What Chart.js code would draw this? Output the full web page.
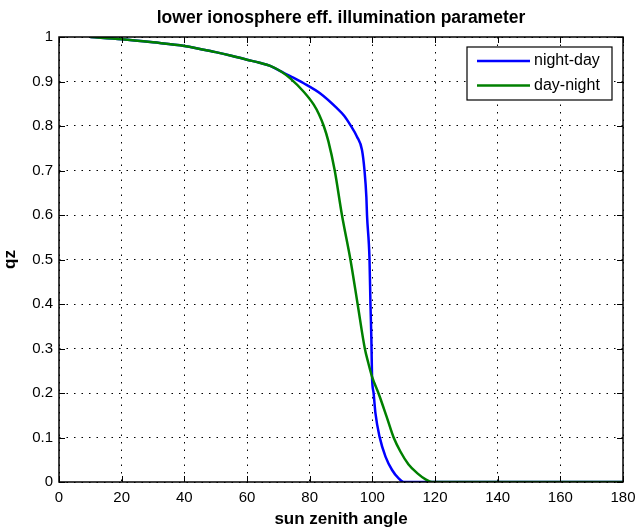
<!DOCTYPE html>
<html>
<head>
<meta charset="utf-8">
<script src="https://cdn.jsdelivr.net/npm/chart.js@4"></script>
<style>
  html, body { margin: 0; padding: 0; background: #fff; }
  #wrap { width: 638px; height: 531px; }
</style>
</head>
<body>
<div id="wrap"><canvas id="qz_chart" width="638" height="531"></canvas></div>
<script>
// valores
const chartTitle = 'lower ionosphere eff. illumination parameter';
const xTicks = [0, 20, 40, 60, 80, 100, 120, 140, 160, 180];
const yTicks = [0, 0.1, 0.2, 0.3, 0.4, 0.5, 0.6, 0.7, 0.8, 0.9, 1];

const nightDayAngle = [10, 20, 30, 40, 50, 55, 60, 64, 67.4, 71, 73.8, 78.1, 83.4, 88.7, 91, 93, 95.1, 96.7, 97.5, 98.1, 98.3, 99.1, 99.4, 99.7, 99.9, 100.4, 101, 102.3, 104.2, 106.3, 108.4, 110, 120, 140, 160, 180];
const nightDayQz = [1.0, 0.995, 0.988, 0.98, 0.966, 0.958, 0.949, 0.942, 0.935, 0.922, 0.912, 0.896, 0.873, 0.84, 0.823, 0.802, 0.776, 0.746, 0.70, 0.64, 0.6, 0.5, 0.4, 0.319, 0.237, 0.2, 0.154, 0.102, 0.057, 0.027, 0.008, 0, 0, 0, 0, 0];

const dayNightAngle = [10, 20, 30, 40, 50, 55, 60, 64, 67.4, 71, 73.8, 78.1, 81.3, 83, 84.5, 86, 88, 90.3, 93, 95.3, 97.6, 98.7, 99.9, 102.2, 104.5, 106.8, 109, 111.5, 114.3, 117, 119, 140, 160, 180];
const dayNightQz = [1, 0.995, 0.988, 0.98, 0.966, 0.958, 0.949, 0.942, 0.935, 0.922, 0.907, 0.877, 0.848, 0.826, 0.8, 0.765, 0.7, 0.6, 0.5, 0.4, 0.3, 0.268, 0.237, 0.195, 0.148, 0.1, 0.068, 0.04, 0.02, 0.006, 0, 0, 0, 0];

const toPoints = (xs, ys) => xs.map((x, i) => ({ x: x, y: ys[i] }));

Chart.defaults.font.family = '"Liberation Sans", Arial, sans-serif';
Chart.defaults.color = '#000';

// caixa, ticks internos, titulo e legenda estilo matlab
const matlabBox = {
  id: 'matlabBox',
  afterDraw(chart) {
    const { ctx, chartArea: a, scales } = chart;
    ctx.save();
    ctx.strokeStyle = '#000';
    ctx.lineWidth = 1;
    ctx.setLineDash([]);
    ctx.beginPath();
    xTicks.forEach(v => {
      const px = Math.round(scales.x.getPixelForValue(v)) + 0.5;
      ctx.moveTo(px, a.bottom); ctx.lineTo(px, a.bottom - 6);
      ctx.moveTo(px, a.top); ctx.lineTo(px, a.top + 6);
    });
    yTicks.forEach(v => {
      const py = Math.round(scales.y.getPixelForValue(v)) + 0.5;
      ctx.moveTo(a.left, py); ctx.lineTo(a.left + 6, py);
      ctx.moveTo(a.right, py); ctx.lineTo(a.right - 6, py);
    });
    ctx.stroke();
    ctx.lineWidth = 1.5;
    ctx.strokeRect(a.left, a.top, a.right - a.left, a.bottom - a.top);

    // titulo centrado na area do grafico
    ctx.fillStyle = '#000';
    ctx.font = 'bold 17.5px "Liberation Sans", Arial, sans-serif';
    ctx.textAlign = 'center';
    ctx.textBaseline = 'middle';
    ctx.fillText(chartTitle, (a.left + a.right) / 2, 18);

    // legenda
    const lx = 467, ly = 47, lw = 145, lh = 53;
    ctx.fillStyle = '#fff';
    ctx.fillRect(lx, ly, lw, lh);
    ctx.lineWidth = 1.2;
    ctx.strokeRect(lx, ly, lw, lh);
    ctx.font = '16px "Liberation Sans", Arial, sans-serif';
    ctx.textAlign = 'left';
    chart.data.datasets.forEach((ds, i) => {
      const y = ly + 14 + i * 24.5;
      ctx.strokeStyle = ds.borderColor;
      ctx.lineWidth = 2.5;
      ctx.beginPath();
      ctx.moveTo(lx + 10, y); ctx.lineTo(lx + 63, y);
      ctx.stroke();
      ctx.fillStyle = '#000';
      ctx.fillText(ds.label, lx + 67, y);
    });
    ctx.restore();
  }
};

const ctx = document.getElementById('qz_chart');
const myChart = new Chart(ctx, {
  type: 'scatter',
  data: {
    datasets: [
      {
        label: 'night-day',
        data: toPoints(nightDayAngle, nightDayQz),
        showLine: true,
        borderColor: '#0000ff',
        backgroundColor: '#0000ff',
        borderWidth: 2.5,
        pointRadius: 0,
        cubicInterpolationMode: 'monotone',
        order: 1,
      },
      {
        label: 'day-night',
        data: toPoints(dayNightAngle, dayNightQz),
        showLine: true,
        borderColor: '#008000',
        backgroundColor: '#008000',
        borderWidth: 2.5,
        pointRadius: 0,
        cubicInterpolationMode: 'monotone',
        order: 0,
      },
    ],
  },
  options: {
    responsive: false,
    animation: false,
    layout: { padding: { left: 0, right: 15, top: 37, bottom: 0 } },
    scales: {
      x: {
        type: 'linear',
        min: 0,
        max: 180,
        afterBuildTicks: s => { s.ticks = xTicks.map(v => ({ value: v })); },
        afterFit: s => { s.height = 49; s.paddingLeft = 0; s.paddingRight = 0; },
        grid: { color: '#000', lineWidth: 1, drawTicks: false },
        border: { display: false, dash: [1.5, 6] },
        ticks: { font: { size: 15 }, padding: 7, color: '#000' },
        title: {
          display: true,
          text: 'sun zenith angle',
          font: { size: 17, weight: 'bold' },
          color: '#000',
          padding: { top: 0, bottom: 1 },
        },
      },
      y: {
        min: 0,
        max: 1,
        afterBuildTicks: s => { s.ticks = yTicks.map(v => ({ value: v })); },
        afterFit: s => { s.width = 59; s.paddingTop = 0; s.paddingBottom = 0; },
        grid: { color: '#000', lineWidth: 1, drawTicks: false },
        border: { display: false, dash: [1.5, 6] },
        ticks: {
          font: { size: 15 },
          padding: 6,
          color: '#000',
          callback: v => String(Math.round(v * 10) / 10),
        },
        title: {
          display: true,
          text: 'qz',
          font: { size: 17, weight: 'bold' },
          color: '#000',
          padding: 0,
        },
      },
    },
    plugins: {
      legend: { display: false },
      tooltip: { enabled: false },
      title: { display: false },
    },
  },
  plugins: [matlabBox],
});
</script>
</body>
</html>
